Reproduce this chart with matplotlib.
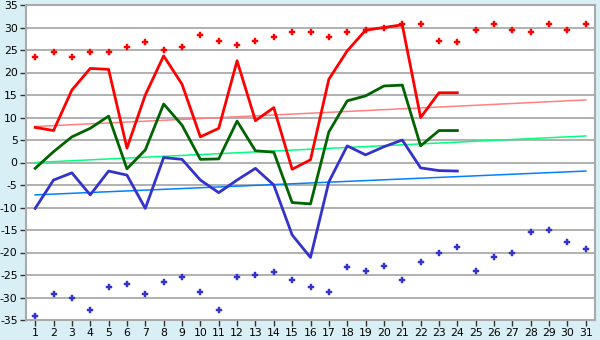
import matplotlib.pyplot as plt
import numpy as np

plt.rcParams['axes.unicode_minus'] = False

days = list(range(1, 32))

# daily max / mean / min (first 24 days)
t_max = [7.8, 7.1, 16.1, 20.9, 20.7, 3.2, 15.0, 23.7, 17.4, 5.7,
         7.6, 22.6, 9.3, 12.2, -1.5, 0.6, 18.5, 24.8, 29.4, 30.0,
         30.6, 10.0, 15.5, 15.5]
t_mean = [-1.3, 2.4, 5.7, 7.6, 10.3, -1.4, 2.8, 13.0, 8.3, 0.7,
          0.8, 9.2, 2.6, 2.3, -8.9, -9.2, 6.8, 13.7, 14.8, 17.0,
          17.2, 3.7, 7.1, 7.1]
t_min = [-10.2, -3.9, -2.3, -7.2, -1.9, -2.8, -10.2, 1.1, 0.7, -3.9,
         -6.7, -3.9, -1.3, -5.0, -16.1, -21.1, -4.3, 3.7, 1.7, 3.5,
         5.0, -1.2, -1.8, -1.9]

# record highs and lows for every day
rec_max = [23.4, 24.5, 23.4, 24.5, 24.5, 25.6, 26.7, 25.0, 25.6, 28.3,
           27.1, 26.1, 27.1, 27.8, 28.9, 28.9, 27.8, 28.9, 29.4, 30.0,
           30.7, 30.7, 27.1, 26.7, 29.4, 30.7, 29.4, 28.9, 30.7, 29.4,
           30.7]
rec_min = [-34.0, -29.3, -30.0, -32.8, -27.7, -27.1, -29.3, -26.6, -25.5, -28.8,
           -32.8, -25.5, -25.1, -24.4, -26.0, -27.7, -28.8, -23.3, -24.0, -22.9,
           -26.0, -22.2, -20.0, -18.8, -24.0, -21.1, -20.0, -15.5, -15.1, -17.7,
           -19.3]

# normal max / mean / min at the start and end of the month
norm_max = [8.0, 13.9]
norm_mean = [0.0, 5.9]
norm_min = [-7.2, -1.9]

fig = plt.figure(figsize=(6, 3.4), dpi=100)
fig.patch.set_facecolor('#d9eff6')
ax = fig.add_axes([26 / 600, 20 / 340, 569 / 600, 315 / 340])
ax.set_facecolor('white')

n = len(t_max)
ends = [days[0], days[-1]]
ax.plot(ends, norm_max, color='#ff8080', lw=1.1)
ax.plot(ends, norm_mean, color='#00ff80', lw=1.1)
ax.plot(ends, norm_min, color='#0080ff', lw=1.1)

ax.plot(days[:n], t_max, color='#ff0000', lw=2)
ax.plot(days[:n], t_mean, color='#006400', lw=2)
ax.plot(days[:n], t_min, color='#3333cc', lw=2)

ax.plot(days, rec_max, ls='none', marker='P', ms=4.6, mew=0.3, color='#ff0000')
ax.plot(days, rec_min, ls='none', marker='P', ms=4.6, mew=0.3, color='#3333cc')

ax.set_xlim(0.5, 31.5)
ax.set_ylim(-35, 35)
ax.set_xticks(days)
ax.set_yticks(np.arange(-35, 36, 5))
ax.yaxis.grid(True, color='#aaaaaa', lw=1.3)
ax.set_axisbelow(True)
ax.tick_params(labelsize=7.8, length=4, width=1, color='#333333', pad=2)
for s in ax.spines.values():
    s.set_color('#aaaaaa')
    s.set_linewidth(1.5)

fig.savefig('out.png', dpi=100, facecolor=fig.get_facecolor())
